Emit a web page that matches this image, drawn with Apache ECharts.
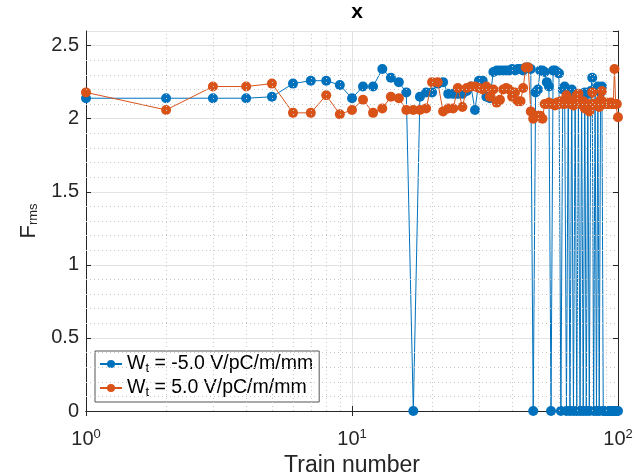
<!DOCTYPE html>
<html>
<head>
<meta charset="utf-8">
<script src="https://cdn.jsdelivr.net/npm/echarts@6/dist/echarts.min.js"></script>
<style>
html, body { margin: 0; padding: 0; background: #fff; }
#main { width: 636px; height: 476px; }
</style>
</head>
<body>
<div id="main"></div>
<script>
// train numbers
var trainNo = [
  1, 2, 3, 4, 5, 6, 7, 8, 9, 10,
  11, 12, 13, 14, 15, 16, 17, 18, 19, 20,
  21, 22, 23, 24, 25, 26, 27, 28, 29, 30,
  31, 32, 33, 34, 35, 36, 37, 38, 39, 40,
  41, 42, 43, 44, 45, 46, 47, 48, 49, 50,
  51, 52, 53, 54, 55, 56, 57, 58, 59, 60,
  61, 62, 63, 64, 65, 66, 67, 68, 69, 70,
  71, 72, 73, 74, 75, 76, 77, 78, 79, 80,
  81, 82, 83, 84, 85, 86, 87, 88, 89, 90,
  91, 92, 93, 94, 95, 96, 97, 98, 99, 100
];
// F_rms, Wt = -5.0
var frmsNeg = [
  2.14, 2.14, 2.14, 2.14, 2.15, 2.24, 2.26, 2.26, 2.23, 2.14,
  2.22, 2.22, 2.34, 2.28, 2.25, 2.18, 0, 2.15, 2.18, 2.18,
  2.24, 2.25, 2.17, 2.17, 2.17, 2.17, 2.19, 2.22, 2.06, 2.26,
  2.26, 2.15, 2.14, 2.32, 2.33, 2.33, 2.33, 2.33, 2.33, 2.34,
  2.33, 2.34, 2.34, 2.33, 2.35, 2.35, 2.34, 0, 2.18, 2.20,
  2.33, 2.33, 2.32, 2.25, 2.22, 0, 2.33, 2.33, 2.32, 2.31,
  0, 2.20, 2.22, 0, 2.18, 0, 2.20, 0, 2.17, 0,
  2.15, 0, 2.16, 0, 2.18, 0, 2.17, 0, 2.19, 2.28,
  0, 2.20, 0, 2.22, 0, 2.18, 2.22, 0, 0, 0,
  0, 0, 0, 0, 0, 0, 0, 0, 0, 0
];
// F_rms, Wt = 5.0
var frmsPos = [
  2.18, 2.06, 2.22, 2.22, 2.24, 2.04, 2.04, 2.16, 2.03, 2.06,
  2.13, 2.04, 2.07, 2.15, 2.14, 2.06, 2.06, 2.06, 2.07, 2.25,
  2.25, 2.05, 2.07, 2.07, 2.21, 2.08, 2.21, 2.22, 2.22, 2.21,
  2.20, 2.22, 2.15, 2.20, 2.11, 2.13, 2.20, 2.21, 2.20, 2.15,
  2.18, 2.12, 2.12, 2.21, 2.35, 2.35, 2.05, 2.00, 2.02, 2.02,
  2.02, 2.00, 2.10, 2.10, 2.11, 2.10, 2.10, 2.09, 2.11, 2.10,
  2.12, 2.10, 2.10, 2.16, 2.11, 2.10, 2.12, 2.09, 2.10, 2.16,
  2.17, 2.10, 2.10, 2.12, 2.07, 2.10, 2.10, 2.05, 2.09, 2.18,
  2.10, 2.10, 2.09, 2.10, 2.08, 2.13, 2.19, 2.10, 2.10, 2.11,
  2.10, 2.10, 2.10, 2.11, 2.10, 2.10, 2.34, 2.10, 2.10, 2.01
];
// minor grid positions
var xMinor = [2, 3, 4, 5, 6, 7, 8, 9, 20, 30, 40, 50, 60, 70, 80, 90];
var yMinor = [0.1, 0.2, 0.3, 0.4, 0.6, 0.7, 0.8, 0.9, 1.1, 1.2, 1.3, 1.4,
  1.6, 1.7, 1.8, 1.9, 2.1, 2.2, 2.3, 2.4];

var nameNeg = 'W_t = -5.0 V/pC/m/mm';
var namePos = 'W_t = 5.0 V/pC/m/mm';
var FONT = 'Liberation Sans';
var AX = '#262626';

function pairs(xs, ys) {
  var out = [];
  for (var i = 0; i < xs.length; i++) out.push([xs[i], ys[i]]);
  return out;
}

var minorLines = [];
for (var i = 0; i < xMinor.length; i++) minorLines.push({ xAxis: xMinor[i] });
for (var j = 0; j < yMinor.length; j++) minorLines.push({ yAxis: yMinor[j] });

var myChart = echarts.init(document.getElementById('main'));

var option = {
  animation: false,
  backgroundColor: '#fff',
  textStyle: { fontFamily: FONT },
  title: {
    text: 'x',
    left: 352,
    top: -3,
    textAlign: 'center',
    textStyle: { fontSize: 21, fontWeight: 'bold', color: '#000', fontFamily: FONT }
  },
  grid: { left: 86, right: 18, top: 31, bottom: 65, outerBoundsMode: 'none', containLabel: false },
  legend: {
    data: [nameNeg, namePos],
    orient: 'vertical',
    left: 95,
    top: 351,
    backgroundColor: '#fff',
    borderColor: '#555',
    borderWidth: 1,
    borderRadius: 0,
    padding: [3, 6, 3, 4],
    itemGap: 3,
    itemWidth: 22,
    itemHeight: 10,
    formatter: function (name) { return name.replace('W_t', 'W{sub|t}'); },
    textStyle: {
      fontSize: 19.5, color: '#000', fontFamily: FONT,
      rich: { sub: { fontSize: 13, fontFamily: FONT, padding: [9, 0, 0, 0] } }
    }
  },
  xAxis: [{
    type: 'log',
    logBase: 10,
    min: 1,
    max: 100,
    name: 'Train number',
    nameLocation: 'middle',
    nameGap: 41,
    nameTextStyle: { fontSize: 23, color: AX, fontFamily: FONT },
    axisLine: { show: true, lineStyle: { color: AX, width: 1 } },
    axisTick: { show: true, inside: true, length: 5, lineStyle: { color: AX } },
    axisLabel: {
      margin: 17,
      color: AX,
      fontSize: 20,
      fontFamily: FONT,
      formatter: function (v) { return '10{sup|' + Math.round(Math.log10(v)) + '}'; },
      rich: { sup: { fontSize: 13, fontFamily: FONT, color: AX, padding: [0, 0, 10, 0] } }
    },
    splitLine: { show: true, lineStyle: { color: '#e3e3e3', width: 1 } }
  }, {
    type: 'log',
    logBase: 10,
    min: 1,
    max: 100,
    position: 'top',
    axisLine: { show: true, lineStyle: { color: AX, width: 1 } },
    axisTick: { show: true, inside: true, length: 5, lineStyle: { color: AX } },
    axisLabel: { show: false },
    splitLine: { show: false }
  }],
  yAxis: [{
    type: 'value',
    min: 0,
    max: 2.6,
    interval: 0.5,
    name: 'F{sub|rms}',
    nameLocation: 'middle',
    nameRotate: 90,
    nameGap: 46,
    nameTextStyle: {
      fontSize: 22, color: AX, fontFamily: FONT,
      rich: { sub: { fontSize: 13, fontFamily: FONT, color: AX, padding: [8, 0, 0, 0] } }
    },
    axisLine: { show: true, lineStyle: { color: AX, width: 1 } },
    axisTick: { show: true, inside: true, length: 5, lineStyle: { color: AX } },
    axisLabel: { color: AX, fontSize: 20, fontFamily: FONT, margin: 7, showMaxLabel: false },
    splitLine: { show: true, lineStyle: { color: '#e3e3e3', width: 1 } }
  }, {
    type: 'value',
    min: 0,
    max: 2.6,
    interval: 0.5,
    position: 'right',
    axisLine: { show: true, lineStyle: { color: AX, width: 1 } },
    axisTick: { show: true, inside: true, length: 5, lineStyle: { color: AX } },
    axisLabel: { show: false },
    splitLine: { show: false }
  }],
  series: [
    {
      type: 'line',
      name: 'minor',
      data: [],
      z: 0,
      silent: true,
      markLine: {
        silent: true,
        symbol: 'none',
        animation: false,
        label: { show: false },
        lineStyle: { color: '#c8c8c8', width: 1, type: [1, 3] },
        data: minorLines
      }
    },
    {
      type: 'line',
      name: nameNeg,
      data: pairs(trainNo, frmsNeg),
      symbol: 'circle',
      symbolSize: 10,
      z: 3,
      itemStyle: { color: '#0072BD' },
      lineStyle: { color: '#0072BD', width: 1 }
    },
    {
      type: 'line',
      name: namePos,
      data: pairs(trainNo, frmsPos),
      symbol: 'circle',
      symbolSize: 10,
      z: 4,
      itemStyle: { color: '#D95319' },
      lineStyle: { color: '#D95319', width: 1 }
    }
  ]
};
myChart.setOption(option);
</script>
</body>
</html>
